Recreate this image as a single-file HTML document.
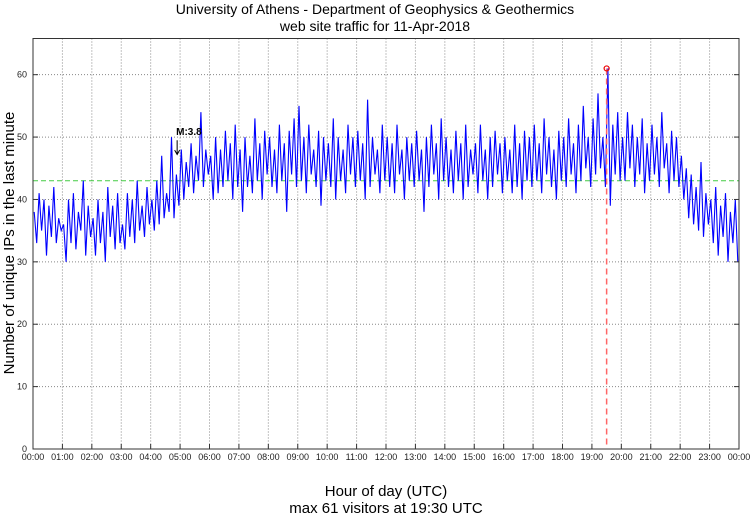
<!DOCTYPE html>
<html><head><meta charset="utf-8"><style>
body{margin:0;background:#fff;width:750px;height:515px;overflow:hidden;font-family:"Liberation Sans",sans-serif}
</style></head><body>
<svg id="chart" width="750" height="515" xmlns="http://www.w3.org/2000/svg" font-family="Liberation Sans, sans-serif">
<text x="375" y="14" text-anchor="middle" font-size="14">University of Athens - Department of Geophysics &amp; Geothermics</text>
<text x="375" y="31" text-anchor="middle" font-size="14">web site traffic for 11-Apr-2018</text>
<text transform="translate(14,243) rotate(-90)" text-anchor="middle" font-size="15">Number of unique IPs in the last minute</text>
<text x="386" y="496" text-anchor="middle" font-size="15">Hour of day (UTC)</text>
<text x="386" y="513" text-anchor="middle" font-size="15">max 61 visitors at 19:30 UTC</text>
<g id="grid"></g><g id="series"></g><g id="axes"></g>
</svg>
<script>
const hourLabels=["00:00","01:00","02:00","03:00","04:00","05:00","06:00","07:00","08:00","09:00","10:00","11:00","12:00","13:00","14:00","15:00","16:00","17:00","18:00","19:00","20:00","21:00","22:00","23:00","00:00"];
const yTicks=[0,10,20,30,40,50,60];
const avgLevel=43;
const maxVisitors=61;
const maxMinute=1170;
const quakeMinute=294;
const quakeLabel="M:3.8";
const visitors=[
38,33,41,35,40,31,39,34,42,33,37,35,
36,30,40,33,41,32,38,35,43,31,39,34,
37,31,40,33,38,30,42,34,39,32,41,33,
36,32,41,34,40,33,43,35,39,34,42,36,
40,35,43,36,47,37,41,38,50,37,44,39,
48,40,46,42,49,41,47,43,54,42,48,44,
47,40,50,41,48,42,51,43,49,40,52,42,
48,38,50,42,47,41,53,43,49,40,51,44,
50,42,48,41,52,43,49,38,51,44,53,42,
55,43,50,41,52,44,48,42,51,39,50,43,
49,42,53,40,50,43,48,41,52,44,50,42,
51,43,49,40,56,42,50,44,48,41,52,43,
50,42,49,41,52,44,48,40,50,43,49,42,
51,43,48,38,50,42,52,44,49,40,53,43,
50,42,48,41,51,43,49,40,52,42,48,44,
49,41,52,43,48,40,50,42,51,44,49,41,
50,43,48,41,52,42,49,40,51,43,50,42,
52,43,49,41,53,44,50,42,48,40,51,43,
50,42,53,44,49,41,52,43,55,45,50,42,
53,44,57,45,50,42,61,39,52,44,54,43,
50,43,54,45,52,42,50,44,53,41,49,43,
52,44,50,42,54,45,49,41,51,43,50,42,
47,40,45,37,44,36,42,35,46,34,41,36,
40,33,42,31,39,34,41,30,38,33,40,30];
const L=33,R=739,T=38.5,B=449,YMAX=65.8;
const X=m=>L+(R-L)*m/1440, Y=v=>B-(B-T)*v/YMAX;
const NS="http://www.w3.org/2000/svg";
function mk(p,t,a){const e=document.createElementNS(NS,t);for(const k in a)e.setAttribute(k,a[k]);p.appendChild(e);return e;}
const grid=document.getElementById('grid'),axes=document.getElementById('axes'),ser=document.getElementById('series');
hourLabels.forEach((h,i)=>{const x=X(i*60);
 if(i>0&&i<24){const g=mk(grid,'line',{x1:x,x2:x,y1:T,y2:B,stroke:'#888','stroke-dasharray':'1,2','stroke-width':1});
 
 }
 const tk=mk(axes,'line',{x1:x,x2:x,y1:B,y2:B-5,stroke:'#333'});
 
 
 const t=mk(axes,'text',{x:x,y:B+11,'font-size':9,'text-anchor':'middle',fill:'#222'});t.textContent=h;
 
 });
yTicks.forEach(v=>{const y=Y(v);
 if(v>0){const g=mk(grid,'line',{x1:L,x2:R,y1:y,y2:y,stroke:'#888','stroke-dasharray':'1,2'});
 
 }
 mk(axes,'line',{x1:L,x2:L+5,y1:y,y2:y,stroke:'#333'});
 mk(axes,'line',{x1:R,x2:R-5,y1:y,y2:y,stroke:'#333'});
 const t=mk(axes,'text',{x:L-6,y:y+3,'font-size':9,'text-anchor':'end',fill:'#222'});t.textContent=v;
 
 });
const fr=mk(axes,'rect',{x:L,y:T,width:R-L,height:B-T,fill:'none',stroke:'#333'});


const avg=mk(ser,'line',{x1:L,x2:R,y1:Y(avgLevel),y2:Y(avgLevel),stroke:'#4c4','stroke-dasharray':'5,3','stroke-width':1});


const step=1440/visitors.length;
const pts=visitors.map((v,i)=>X(i*step+step/2).toFixed(1)+','+Y(v).toFixed(1)).join(' ');
const pl=mk(ser,'polyline',{points:pts,fill:'none',stroke:'#00f','stroke-width':1.1});


const mx=X(maxMinute);
const ml=mk(ser,'line',{x1:mx,x2:mx,y1:Y(maxVisitors),y2:B,stroke:'#f66','stroke-dasharray':'6,4','stroke-width':1.5});


const mc=mk(ser,'circle',{cx:mx,cy:Y(maxVisitors),r:2.5,fill:'none',stroke:'#e00','stroke-width':1.2});


const qx=X(quakeMinute);
const qa=mk(ser,'path',{d:`M${qx},${Y(49.5)} L${qx},${Y(47.2)} M${qx-2.5},${Y(47.9)} L${qx},${Y(47.2)} L${qx+2.5},${Y(47.9)}`,stroke:'#000',fill:'none','stroke-width':1});


const ql=mk(ser,'text',{x:qx-1,y:Y(50.3),'font-size':10,'font-weight':'bold'});ql.textContent=quakeLabel;


</script>
</body></html>
